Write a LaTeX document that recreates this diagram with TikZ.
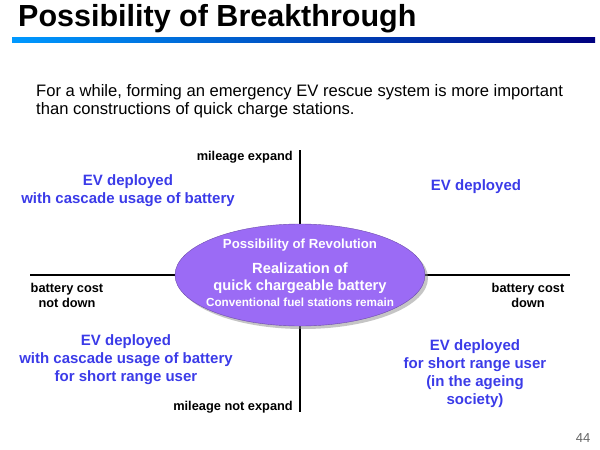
\documentclass[tikz,border=0pt]{standalone}
\usepackage{fontspec}
\setmainfont{Liberation Sans}
\usetikzlibrary{shadows,shapes.geometric}
\definecolor{bl}{HTML}{3B3BE8}
\definecolor{vio}{HTML}{9B6BF5}
\begin{document}
\begin{tikzpicture}[x=1pt,y=-1pt,
  lab/.style={font=\bfseries\fontsize{12.8}{15}\selectfont,align=center},
  bt/.style={font=\bfseries\fontsize{15}{18}\selectfont,text=bl,align=center},
  axis/.style={line width=1.3pt}]
\useasboundingbox (0,0) rectangle (600,450);
\node[anchor=west,inner sep=0,font=\bfseries\fontsize{30.5}{34}\selectfont] (title) at (18,19) {Possibility of Breakthrough};
\shade[left color=cyan!60!blue,right color=blue!50!black] (12,37) rectangle (595,42);
\node[anchor=north west,inner sep=0,align=left,font=\fontsize{16.6}{18}\selectfont] (intro) at (36,84) {For a while, forming an emergency EV rescue system is more important\\than constructions of quick charge stations.};
\coordinate (t) at (300,150); \coordinate (b) at (300,412);
\coordinate (l) at (30,275); \coordinate (r) at (570,275);
\draw[axis] (t) -- (b); \draw[axis] (l) -- (r);
\node[draw=vio!70!black,fill=vio,ellipse,minimum width=250,minimum height=102,inner sep=0,
  drop shadow={shadow xshift=3pt,shadow yshift=-3pt,fill=black!45}] (e) at (300,275) {};
\node[text=white,font=\bfseries\fontsize{13.2}{15}\selectfont] (e1) at (300,245) {Possibility of Revolution};
\node[text=white,align=center,font=\bfseries\fontsize{14.7}{17}\selectfont] (e2) at (300,278) {Realization of\\quick chargeable battery};
\node[text=white,font=\bfseries\fontsize{11.7}{13}\selectfont] (e3) at (300,302) {Conventional fuel stations remain};
\node[lab,anchor=east,inner sep=0] (me) at (293,157) {mileage expand};
\node[lab,anchor=east,inner sep=0] (mn) at (293,407) {mileage not expand};
\node[lab] (bcn) at (67,295) {battery cost\\not down};
\node[lab] (bcd) at (528,295) {battery cost\\down};
\node[bt] (q1) at (128,191) {EV deployed\\with cascade usage of battery};
\node[bt] (q2) at (476,187) {EV deployed};
\node[bt] (q3) at (126,360) {EV deployed\\with cascade usage of battery\\for short range user};
\node[bt] (q4) at (475,374) {EV deployed\\for short range user\\(in the ageing\\society)};
\node[text=black!60,font=\fontsize{13}{15}\selectfont] (pg) at (583,438) {44};
\end{tikzpicture}
\end{document}
